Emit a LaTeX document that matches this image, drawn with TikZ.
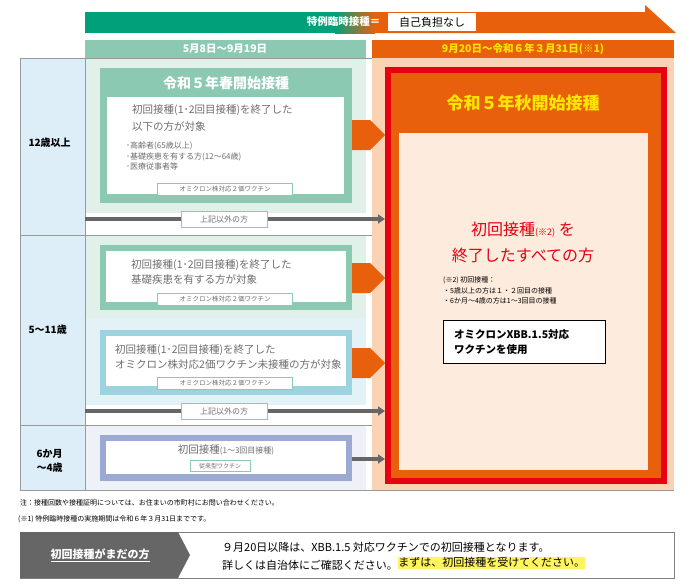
\documentclass[tikz,border=0pt]{standalone}
\usepackage{fontspec}
\setmainfont{Noto Sans CJK JP}
\usetikzlibrary{arrows.meta,shapes.arrows}
\definecolor{grn}{HTML}{00A07A}
\definecolor{org}{HTML}{E8600C}
\definecolor{teal}{HTML}{8CC9B3}
\definecolor{tealbg}{HTML}{E1F1EA}
\definecolor{bluebg}{HTML}{E3F2F6}
\definecolor{bluefr}{HTML}{9BD3DF}
\definecolor{lavbg}{HTML}{EEF1F8}
\definecolor{lavfr}{HTML}{9AAAD2}
\definecolor{agebg}{HTML}{DDEEF9}
\definecolor{peach}{HTML}{FAD3B5}
\definecolor{peachl}{HTML}{FDEBDD}
\definecolor{redb}{HTML}{E60012}
\definecolor{txt}{HTML}{6E6E6E}
\definecolor{dgray}{HTML}{666666}
\definecolor{ylw}{HTML}{FFE600}
\definecolor{hl}{HTML}{FFF45C}
\tikzset{
 fs/.style={font=\fontsize{#1}{#1}\selectfont},
 tagbox/.style={draw=teal,fill=white,fs=6.5,text=txt,inner sep=2pt,minimum height=12pt},
 oarrow/.style={single arrow,fill=org,draw=none,minimum height=33pt,minimum width=30pt,single arrow head extend=0pt,inner sep=3.5pt,anchor=west},
 garrow/.style={draw=dgray,line width=3.5pt,-{Triangle[length=7pt,width=9pt]}},
 lbl/.style={draw=teal,fill=white,fs=8,text=txt,minimum width=86pt,minimum height=16pt,inner sep=1pt},
 btxt/.style={text=txt,align=left,anchor=west,fs=10,inner sep=0pt},
}
\begin{document}
\begin{tikzpicture}[x=1pt,y=-1pt]
\useasboundingbox (0,0) rectangle (691,584);
\fill[white] (0,0) rectangle (691,584);
% banner
\fill[grn] (85,12) rectangle (335,33);
\shade[left color=grn,right color=org] (335,12) rectangle (375,33);
\fill[org] (375,12) -- (645,12) -- (645,5) -- (676,33) -- (375,33) -- cycle;
\node[text=white,font=\bfseries\fontsize{10.5}{10.5}\selectfont,anchor=east] (b1) at (384,22) {特例臨時接種＝};
\node[fill=white,fs=11,minimum width=88pt,minimum height=18pt,inner sep=0pt] (b2) at (432,22) {自己負担なし};
% headers
\fill[teal] (85,40) rectangle (366,58);
\node[text=white,font=\bfseries\fontsize{10.5}{10.5}\selectfont] (h1) at (225,49) {5月8日～9月19日};
\fill[org] (372,40) rectangle (674,58);
\node[text=ylw,font=\bfseries\fontsize{10.5}{10.5}\selectfont] (h2) at (523,49) {9月20日～令和６年３月31日(※1)};
% backgrounds
\fill[agebg] (20,58) rectangle (85,490);
\fill[tealbg] (85,58) rectangle (366,213);
\fill[tealbg] (85,235) rectangle (366,318);
\fill[bluebg] (85,318) rectangle (366,405);
\fill[lavbg] (85,425) rectangle (366,490);
\fill[peach] (372,58) rectangle (674,490);
\draw[gray!80] (20,58) rectangle (85,490);
\draw[gray!80] (20,58) -- (372,58);
\draw[gray!80] (20,235) -- (372,235);
\draw[gray!80] (20,425) -- (372,425);
\draw[gray!80] (20,490) -- (674,490);
% age labels
\node[font=\bfseries\fontsize{10}{10}\selectfont,anchor=west] (a1) at (25,143) {12歳以上};
\node[font=\bfseries\fontsize{10}{10}\selectfont,anchor=west] (a2) at (25,330) {5～11歳};
\node[font=\bfseries\fontsize{10}{14}\selectfont,align=right,anchor=west] (a3) at (25,461) {6か月\\\hspace*{8pt}～4歳};
% autumn box
\fill[redb] (385,67) rectangle (667,484);
\fill[org] (391,73) rectangle (661,478);
\fill[peachl] (399,133) rectangle (648,470);
\node[text=ylw,font=\bfseries\fontsize{17}{17}\selectfont] (t2) at (523,103) {令和５年秋開始接種};
\node[text=redb,fs=16] (r1) at (523,230) {初回接種{\fontsize{9}{9}\selectfont(※2)} を};
\node[text=redb,fs=16] (r2) at (523,255) {終了したすべての方};
\node[fs=7,anchor=west,align=left,inner sep=0pt] (n2) at (443,290) {(※2) 初回接種：\\[3pt]・5歳以上の方は１・２回目の接種\\[3pt]・6か月～4歳の方は1～3回目の接種};
\node[draw=black,fill=white,font=\bfseries\fontsize{10.5}{15}\selectfont,align=left,minimum width=162pt,minimum height=43pt,text width=140pt] (xbb) at (524,342) {オミクロンXBB.1.5対応\\ワクチンを使用};
% spring box
\fill[teal] (100,68) rectangle (352,203);
\node[text=white,font=\bfseries\fontsize{14}{14}\selectfont] (t1) at (226,83) {令和５年春開始接種};
\fill[white] (107,97) rectangle (344,194);
\node[btxt,font=\fontsize{10.5}{17}\selectfont] (s1) at (132,118) {初回接種(1･2回目接種)を終了した\\以下の方が対象};
\node[btxt,font=\fontsize{8}{10.5}\selectfont] (s2) at (126,156) {･高齢者(65歳以上)\\･基礎疾患を有する方(12～64歳)\\･医療従事者等};
\node[tagbox,minimum width=135pt] (tg1) at (225,189) {オミクロン株対応２価ワクチン};
\node[oarrow] (oa1) at (352,135) {};
% others 1
\draw[garrow] (85,219) -- (385,219);
\node[lbl] (l1) at (224,219) {上記以外の方};
% 5-11 box1
\fill[teal] (100,245) rectangle (352,310);
\fill[white] (106,251) rectangle (346,302);
\node[btxt,font=\fontsize{10.5}{15}\selectfont] (m1) at (131,272) {初回接種(1･2回目接種)を終了した\\基礎疾患を有する方が対象};
\node[tagbox,minimum width=135pt] (tg2) at (225,299) {オミクロン株対応２価ワクチン};
\node[oarrow] (oa2) at (352,278) {};
% box2
\fill[bluefr] (100,330) rectangle (352,395);
\fill[white] (106,336) rectangle (346,386);
\node[btxt,font=\fontsize{10.5}{15}\selectfont] (m2) at (115,357) {初回接種(1･2回目接種)を終了した\\オミクロン株対応2価ワクチン未接種の方が対象};
\node[tagbox,minimum width=135pt] (tg3) at (225,383) {オミクロン株対応２価ワクチン};
\node[oarrow] (oa3) at (352,363) {};
% others 2
\draw[garrow] (85,411) -- (385,411);
\node[lbl] (l2) at (224,411) {上記以外の方};
% 6m-4
\fill[lavfr] (100,435) rectangle (352,481);
\fill[white] (106,441) rectangle (346,474);
\node[text=txt,fs=10.5] (y1) at (226,450) {初回接種{\fontsize{8}{8}\selectfont(1～3回目接種)}};
\node[tagbox,minimum width=60pt,minimum height=11pt,fs=6] (tg4) at (220,466) {従来型ワクチン};
\coordinate (ye) at (385,459);
\draw[garrow] (352,459) -- (ye);
% notes
\node[fs=7,anchor=west,inner sep=0pt] (nt1) at (20,503) {注：接種回数や接種証明については、お住まいの市町村にお問い合わせください。};
\node[fs=7,anchor=west,inner sep=0pt] (nt2) at (18,519) {(※1) 特例臨時接種の実施期間は令和６年３月31日までです。};
% bottom box
\draw[gray] (20,532) rectangle (674,578);
\fill[dgray] (20,532) -- (178,532) -- (190,555) -- (178,578) -- (20,578) -- cycle;
\node[text=white,font=\bfseries\fontsize{11}{11}\selectfont] (bb) at (100,555) {\underline{初回接種がまだの方}};
\node[font=\fontsize{11}{11}\selectfont,anchor=west,inner sep=0pt] (bt1) at (222,547) {９月20日以降は、XBB.1.5 対応ワクチンでの初回接種となります。};
\node[font=\fontsize{11}{11}\selectfont,anchor=west,inner sep=0pt] (bt2) at (222,565) {詳しくは自治体にご確認ください。};
\node[font=\fontsize{11}{11}\selectfont,anchor=west,inner xsep=0pt,inner ysep=0pt,fill=hl,yshift=2pt,text depth=3pt] (bt3) at (bt2.east) {まずは、初回接種を受けてください。};
\end{tikzpicture}
\end{document}
